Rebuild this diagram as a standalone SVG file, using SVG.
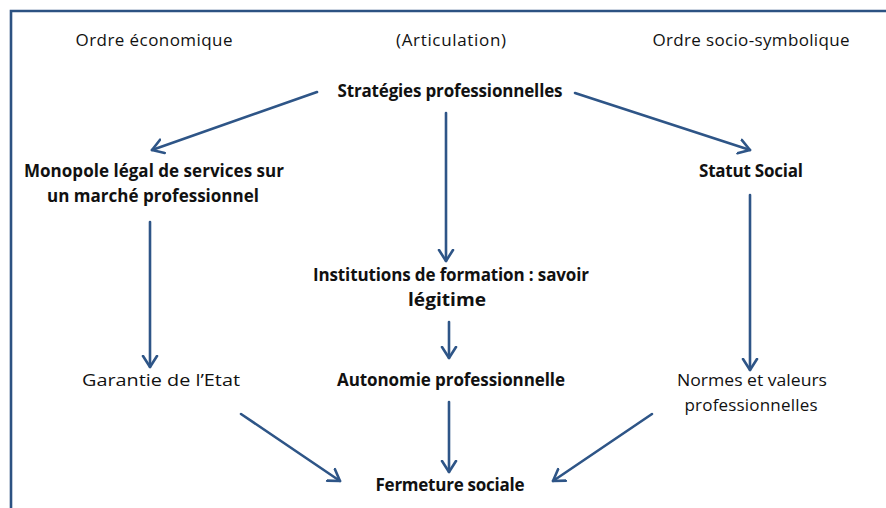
<svg xmlns="http://www.w3.org/2000/svg" width="886" height="508" viewBox="0 0 886 508">
<style>
text{font-family:"Open Sans","Noto Sans","Liberation Sans",sans-serif;font-size:17px;fill:#111;text-anchor:middle}
.b{font-weight:bold}
.c{stroke:#2e5587;stroke-width:2.6;fill:none;stroke-linecap:round}
</style>
<defs>
<marker id="ah" markerUnits="userSpaceOnUse" markerWidth="20" markerHeight="20" refX="12" refY="8" orient="auto" viewBox="0 0 20 16">
<path d="M1,1 L12,8 L1,15" fill="none" stroke="#2e5587" stroke-width="2.6" stroke-linecap="round" stroke-linejoin="round"/>
</marker>
</defs>
<rect width="886" height="508" fill="#fff"/>
<path d="M11,508 V11 H886" fill="none" stroke="#2c5282" stroke-width="2.6"/>
<g id="headers">
<text x="154" y="46" textLength="157">Ordre économique</text>
<text x="451" y="46" textLength="110">(Articulation)</text>
<text x="751" y="46" textLength="197">Ordre socio-symbolique</text>
</g>
<g id="strategies"><text class="b" x="450" y="97" textLength="225">Stratégies professionnelles</text></g>
<g id="monopole">
<text class="b" x="154" y="177" textLength="260">Monopole légal de services sur</text>
<text class="b" x="153" y="202" textLength="212">un marché professionnel</text>
</g>
<g id="statut"><text class="b" x="751" y="177" textLength="104">Statut Social</text></g>
<g id="institutions">
<text class="b" x="451" y="281" textLength="276">Institutions de formation : savoir</text>
<text class="b" x="447" y="306" textLength="78" lengthAdjust="spacingAndGlyphs">légitime</text>
</g>
<g id="garantie"><text x="161" y="386" textLength="158" lengthAdjust="spacingAndGlyphs">Garantie de l’Etat</text></g>
<g id="autonomie"><text class="b" x="451" y="386" textLength="228">Autonomie professionnelle</text></g>
<g id="normes">
<text x="752" y="386" textLength="150" lengthAdjust="spacingAndGlyphs">Normes et valeurs</text>
<text x="751" y="411" textLength="133">professionnelles</text>
</g>
<g id="fermeture"><text class="b" x="450" y="491" textLength="149">Fermeture sociale</text></g>
<g id="connectors">
<line class="c" x1="317" y1="92" x2="152" y2="150" marker-end="url(#ah)"/>
<line class="c" x1="575" y1="93" x2="750" y2="150" marker-end="url(#ah)"/>
<line class="c" x1="446" y1="113" x2="446" y2="261" marker-end="url(#ah)"/>
<line class="c" x1="449" y1="322" x2="449" y2="358" marker-end="url(#ah)"/>
<line class="c" x1="449" y1="402" x2="449" y2="472" marker-end="url(#ah)"/>
<line class="c" x1="150" y1="222" x2="150" y2="367" marker-end="url(#ah)"/>
<line class="c" x1="750" y1="195" x2="750" y2="370" marker-end="url(#ah)"/>
<line class="c" x1="241" y1="414" x2="340" y2="481" marker-end="url(#ah)"/>
<line class="c" x1="652" y1="414" x2="553" y2="481" marker-end="url(#ah)"/>
</g>
</svg>
